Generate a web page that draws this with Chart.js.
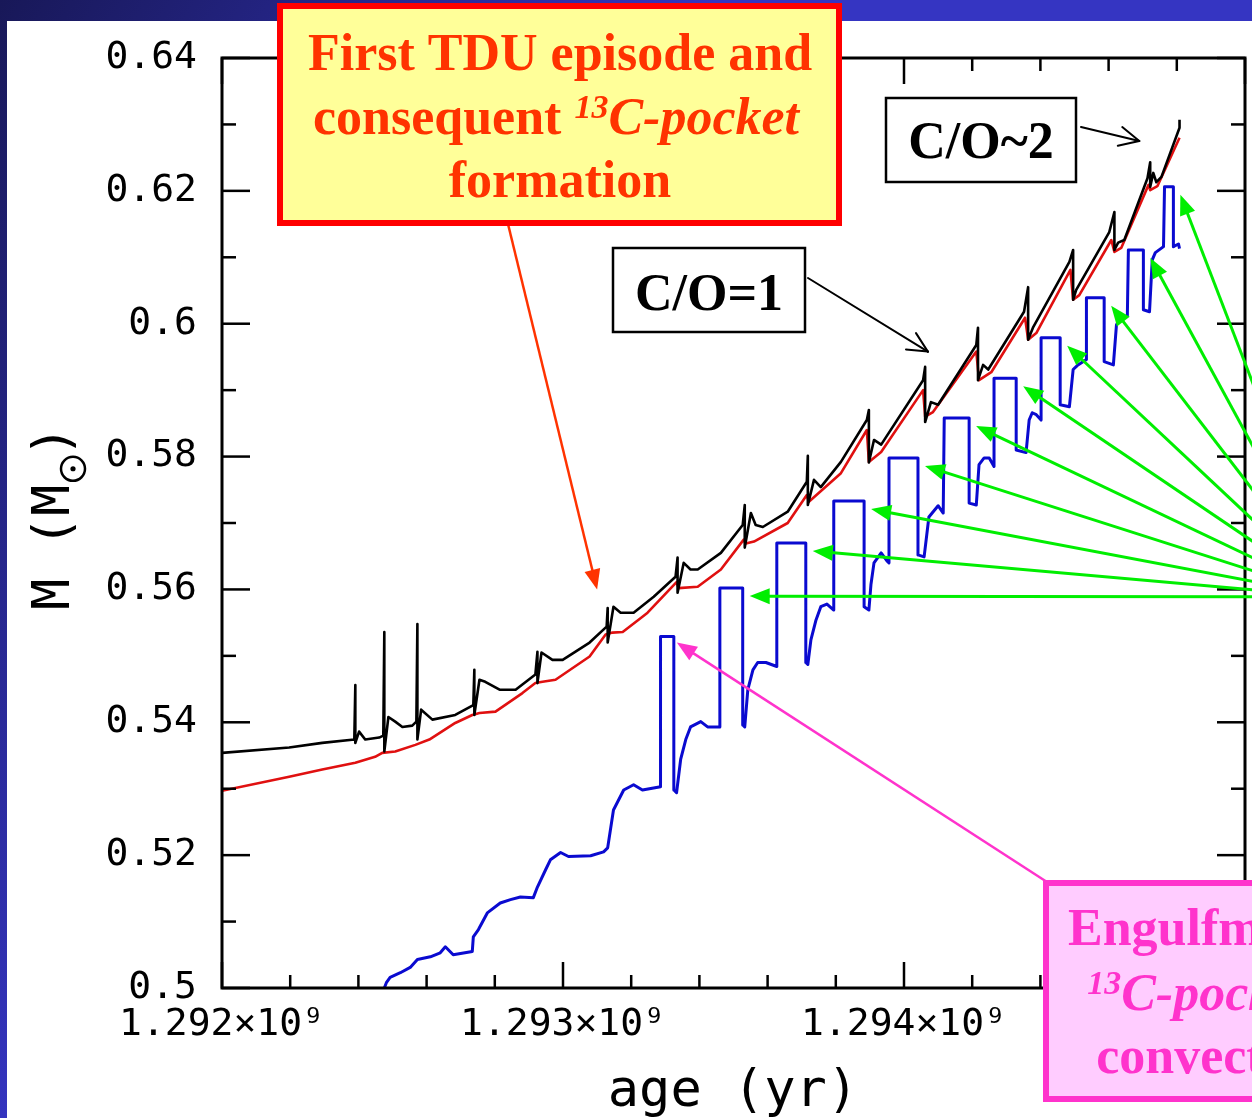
<!DOCTYPE html>
<html>
<head>
<meta charset="utf-8">
<script src="https://cdn.jsdelivr.net/npm/chart.js@4.4.0/dist/chart.umd.min.js"></script>
<style>
  html, body { margin: 0; padding: 0; overflow: hidden; background: #2a2aa0; }
  canvas { display: block; }
</style>
</head>
<body>
<canvas id="tp" width="1252" height="1118"></canvas>
<script>
// Ages are in units of 10^6 yr, masses in solar masses.

// Envelope base / H-burning shell (black)
const blackAge = [1292.000,1292.197,1292.294,1292.388,1292.391,1292.391,1292.402,1292.420,1292.461,1292.473,
  1292.476,1292.476,1292.488,1292.508,1292.529,1292.558,1292.570,1292.573,1292.573,1292.584,
  1292.617,1292.684,1292.737,1292.740,1292.740,1292.755,1292.772,1292.814,1292.861,1292.919,
  1292.925,1292.925,1292.937,1292.969,1292.999,1293.078,1293.128,1293.131,1293.131,1293.148,
  1293.169,1293.207,1293.266,1293.330,1293.336,1293.336,1293.354,1293.374,1293.395,1293.463,
  1293.527,1293.533,1293.533,1293.551,1293.565,1293.586,1293.659,1293.715,1293.718,1293.718,
  1293.736,1293.756,1293.815,1293.891,1293.897,1293.897,1293.912,1293.933,1294.056,1294.062,
  1294.062,1294.079,1294.100,1294.212,1294.217,1294.217,1294.232,1294.247,1294.352,1294.364,
  1294.364,1294.379,1294.485,1294.496,1294.496,1294.505,1294.602,1294.617,1294.617,1294.628,
  1294.646,1294.714,1294.722,1294.722,1294.731,1294.740,1294.755,1294.808,1294.808];
const blackMass = [0.5354,0.5362,0.5369,0.5374,0.5456,0.5369,0.5386,0.5374,0.5377,0.5380,
  0.5536,0.5356,0.5408,0.5401,0.5393,0.5395,0.5401,0.5548,0.5374,0.5419,
  0.5404,0.5411,0.5426,0.5479,0.5411,0.5464,0.5461,0.5449,0.5449,0.5472,
  0.5506,0.5459,0.5505,0.5494,0.5494,0.5520,0.5544,0.5572,0.5520,0.5574,
  0.5565,0.5565,0.5589,0.5619,0.5648,0.5595,0.5640,0.5630,0.5630,0.5655,
  0.5697,0.5727,0.5663,0.5715,0.5697,0.5694,0.5717,0.5762,0.5801,0.5727,
  0.5765,0.5754,0.5792,0.5855,0.5870,0.5791,0.5825,0.5818,0.5915,0.5935,
  0.5852,0.5882,0.5878,0.5968,0.5994,0.5915,0.5938,0.5931,0.6018,0.6055,
  0.5976,0.5995,0.6093,0.6111,0.6036,0.6051,0.6138,0.6168,0.6111,0.6122,
  0.6126,0.6219,0.6243,0.6206,0.6227,0.6213,0.6221,0.6295,0.6307];

// H-exhausted core (red)
const redAge = [1292.000,1292.197,1292.294,1292.391,1292.449,1292.470,1292.508,1292.567,1292.608,1292.684,
  1292.734,1292.755,1292.802,1292.881,1292.919,1292.940,1292.978,1293.078,1293.125,1293.145,
  1293.175,1293.233,1293.248,1293.333,1293.339,1293.395,1293.463,1293.530,1293.536,1293.560,
  1293.659,1293.715,1293.721,1293.815,1293.891,1293.897,1293.933,1294.056,1294.062,1294.085,
  1294.212,1294.220,1294.256,1294.355,1294.364,1294.388,1294.488,1294.496,1294.514,1294.608,
  1294.617,1294.637,1294.717,1294.722,1294.743,1294.808];
const redMass = [0.5297,0.5318,0.5329,0.5339,0.5348,0.5354,0.5356,0.5366,0.5374,0.5399,
  0.5411,0.5414,0.5416,0.5444,0.5459,0.5461,0.5464,0.5499,0.5532,0.5535,
  0.5536,0.5559,0.5565,0.5611,0.5602,0.5604,0.5630,0.5675,0.5669,0.5672,
  0.5700,0.5742,0.5732,0.5775,0.5840,0.5792,0.5807,0.5900,0.5860,0.5867,
  0.5958,0.5915,0.5927,0.6009,0.5976,0.5986,0.6081,0.6036,0.6043,0.6126,
  0.6108,0.6114,0.6209,0.6201,0.6207,0.6280];

// He-exhausted core and convective shells (blue)
const blueAge = [1292.476,1292.482,1292.493,1292.523,1292.552,1292.573,1292.611,1292.640,1292.655,1292.678,
  1292.734,1292.737,1292.752,1292.778,1292.816,1292.846,1292.875,1292.913,1292.925,1292.949,
  1292.963,1292.993,1293.016,1293.081,1293.119,1293.131,1293.148,1293.178,1293.207,1293.233,
  1293.286,1293.286,1293.325,1293.325,1293.333,1293.345,1293.360,1293.374,1293.404,1293.424,
  1293.460,1293.460,1293.527,1293.527,1293.533,1293.542,1293.557,1293.571,1293.595,1293.627,
  1293.627,1293.712,1293.712,1293.718,1293.727,1293.742,1293.756,1293.774,1293.794,1293.794,
  1293.883,1293.883,1293.897,1293.903,1293.912,1293.933,1293.950,1293.956,1293.956,1294.041,
  1294.041,1294.059,1294.073,1294.100,1294.115,1294.118,1294.191,1294.191,1294.212,1294.220,
  1294.235,1294.250,1294.264,1294.264,1294.329,1294.329,1294.358,1294.367,1294.376,1294.388,
  1294.402,1294.402,1294.458,1294.458,1294.485,1294.496,1294.508,1294.535,1294.535,1294.587,
  1294.587,1294.614,1294.623,1294.631,1294.655,1294.658,1294.702,1294.702,1294.720,1294.728,
  1294.737,1294.761,1294.764,1294.790,1294.790,1294.805,1294.808];
const blueMass = [0.5000,0.5008,0.5016,0.5023,0.5031,0.5043,0.5047,0.5053,0.5062,0.5050,
  0.5055,0.5077,0.5088,0.5113,0.5128,0.5133,0.5137,0.5136,0.5152,0.5178,
  0.5193,0.5204,0.5198,0.5199,0.5205,0.5211,0.5268,0.5298,0.5306,0.5298,
  0.5303,0.5529,0.5529,0.5298,0.5294,0.5344,0.5374,0.5393,0.5401,0.5393,
  0.5393,0.5602,0.5602,0.5396,0.5393,0.5449,0.5479,0.5490,0.5490,0.5484,
  0.5670,0.5670,0.5490,0.5487,0.5524,0.5554,0.5574,0.5578,0.5569,0.5733,
  0.5733,0.5574,0.5569,0.5607,0.5640,0.5655,0.5643,0.5640,0.5798,0.5798,
  0.5652,0.5649,0.5709,0.5726,0.5715,0.5858,0.5858,0.5730,0.5727,0.5788,
  0.5798,0.5798,0.5785,0.5918,0.5918,0.5810,0.5806,0.5855,0.5866,0.5863,
  0.5855,0.5979,0.5979,0.5878,0.5875,0.5931,0.5937,0.5946,0.6039,0.6039,
  0.5943,0.5938,0.5998,0.6006,0.6012,0.6111,0.6111,0.6021,0.6018,0.6096,
  0.6107,0.6116,0.6206,0.6206,0.6116,0.6120,0.6113];

// Axis ticks
const ageTicks = [1292, 1293, 1294];
const ageTickLabels = ['1.292\u00d710\u2079', '1.293\u00d710\u2079', '1.294\u00d710\u2079'];
const massTicks = [0.50, 0.52, 0.54, 0.56, 0.58, 0.60, 0.62, 0.64];
const massTickLabels = ['0.5', '0.52', '0.54', '0.56', '0.58', '0.6', '0.62', '0.64'];

const pts = (xs, ys) => xs.map((x, i) => ({ x, y: ys[i] }));

function seg(ctx, x0, y0, x1, y1) {
  ctx.beginPath(); ctx.moveTo(x0, y0); ctx.lineTo(x1, y1); ctx.stroke();
}

function arrowFilled(ctx, x0, y0, x1, y1, color, lw, len, half) {
  const a = Math.atan2(y1 - y0, x1 - x0);
  const bx = x1 - len * Math.cos(a), by = y1 - len * Math.sin(a);
  ctx.strokeStyle = color; ctx.fillStyle = color; ctx.lineWidth = lw;
  seg(ctx, x0, y0, bx + 2 * Math.cos(a), by + 2 * Math.sin(a));
  ctx.beginPath();
  ctx.moveTo(x1, y1);
  ctx.lineTo(bx + half * Math.sin(a), by - half * Math.cos(a));
  ctx.lineTo(bx - half * Math.sin(a), by + half * Math.cos(a));
  ctx.closePath(); ctx.fill();
}

function arrowOpen(ctx, x0, y0, x1, y1, color, lw, len, ang) {
  const a = Math.atan2(y1 - y0, x1 - x0);
  ctx.strokeStyle = color; ctx.lineWidth = lw; ctx.lineCap = 'round';
  seg(ctx, x0, y0, x1, y1);
  seg(ctx, x1, y1, x1 - len * Math.cos(a - ang), y1 - len * Math.sin(a - ang));
  seg(ctx, x1, y1, x1 - len * Math.cos(a + ang), y1 - len * Math.sin(a + ang));
  ctx.lineCap = 'butt';
}

// Draws a line made of styled runs (bold / italic / superscript), centred on cx
function runsFont(r, size) {
  const s = r.sup ? Math.round(size * 0.65) : size;
  return (r.it ? 'italic ' : '') + 'bold ' + s + 'px "Liberation Serif"';
}
function runsWidth(ctx, runs, size) {
  let w = 0;
  runs.forEach(r => { ctx.font = runsFont(r, size); w += ctx.measureText(r.t).width; });
  return w;
}
function drawRuns(ctx, runs, cx, base, size, color) {
  let x = cx - runsWidth(ctx, runs, size) / 2;
  ctx.fillStyle = color; ctx.textAlign = 'left'; ctx.textBaseline = 'alphabetic';
  runs.forEach(r => {
    ctx.font = runsFont(r, size);
    ctx.fillText(r.t, x, base - (r.sup ? size * 0.3 : 0));
    x += ctx.measureText(r.t).width;
  });
}

const decor = {
  id: 'decor',
  beforeDraw(chart) {
    const { ctx, width, height } = chart;
    ctx.save();
    const g = ctx.createLinearGradient(0, 0, 520, 320);
    g.addColorStop(0, '#181858');
    g.addColorStop(1, '#3535c2');
    ctx.fillStyle = g;
    ctx.fillRect(0, 0, width, height);
    ctx.fillStyle = '#ffffff';
    ctx.fillRect(7, 21, width - 7, height - 21);
    ctx.restore();
  },
  afterDatasetsDraw(chart) {
    const { ctx } = chart;
    const { left, right, top, bottom } = chart.chartArea;
    const xs = chart.scales.x, ys = chart.scales.y;
    ctx.save();
    ctx.strokeStyle = '#000';
    ctx.lineWidth = 3;
    ctx.strokeRect(left, top, right - left, bottom - top);
    ctx.lineWidth = 2.5;
    for (let i = 0; i <= 14; i++) {
      const p = ys.getPixelForValue(0.5 + i * 0.01);
      const L = i % 2 === 0 ? 28 : 14;
      seg(ctx, left, p, left + L, p);
      seg(ctx, right, p, right - L, p);
    }
    for (let i = 0; i <= 15; i++) {
      const p = xs.getPixelForValue(1292 + i * 0.2);
      const L = i % 5 === 0 ? 26 : 13;
      seg(ctx, p, bottom, p, bottom - L);
      seg(ctx, p, top, p, top + L);
    }
    ctx.restore();
  },
  afterDraw(chart) {
    const { ctx } = chart;
    const xs = chart.scales.x, ys = chart.scales.y;
    const px = v => xs.getPixelForValue(v);
    const py = v => ys.getPixelForValue(v);
    ctx.save();

    // axis titles
    ctx.fillStyle = '#000';
    ctx.strokeStyle = '#000';
    ctx.font = '52px "DejaVu Sans Mono"';
    ctx.textAlign = 'center';
    ctx.textBaseline = 'alphabetic';
    ctx.fillText('age (yr)', 733, 1106);

    ctx.save();
    ctx.translate(69, 610);
    ctx.rotate(-Math.PI / 2);
    ctx.textAlign = 'left';
    ctx.fillText('M (M', 0, 0);
    const w = ctx.measureText('M (M').width;
    ctx.lineWidth = 2.5;
    ctx.beginPath(); ctx.arc(w + 16, 4, 12, 0, Math.PI * 2); ctx.stroke();
    ctx.beginPath(); ctx.arc(w + 16, 4, 2.6, 0, Math.PI * 2); ctx.fill();
    ctx.fillText(')', w + 28, 0);
    ctx.restore();

    // pulse tops: right-hand corners of each convective shell
    const corners = [];
    for (let i = 0; i < blueAge.length - 1; i++) {
      if (blueAge[i] === blueAge[i + 1] && blueMass[i] - blueMass[i + 1] > 0.005) {
        corners.push([px(blueAge[i]), py(blueMass[i])]);
      }
    }
    const hub = [1335, 597];
    corners.slice(1).forEach(c => {
      arrowFilled(ctx, hub[0], hub[1], c[0] + 7, c[1] + 8, '#00ee00', 3, 20, 8);
    });
    const first = corners[0];
    arrowFilled(ctx, 1047, 882, first[0] + 3, first[1] + 6, '#ff33cc', 2.5, 20, 8);

    // first TDU arrow
    arrowFilled(ctx, 508, 224, px(1293.10), py(0.5600), '#ff3300', 2.5, 20, 8);

    // C/O arrows
    arrowOpen(ctx, 808, 278, px(1294.07), py(0.5958), '#000', 2, 22, 0.45);
    arrowOpen(ctx, 1081, 127, px(1294.69), py(0.6275), '#000', 2, 22, 0.45);

    // yellow box
    ctx.fillStyle = '#ffff99';
    ctx.fillRect(280, 6, 559, 217);
    ctx.strokeStyle = '#ff0000';
    ctx.lineWidth = 6;
    ctx.strokeRect(280, 6, 559, 217);
    const orange = '#ff3300';
    drawRuns(ctx, [{ t: 'First TDU episode and' }], 560, 70, 52, orange);
    drawRuns(ctx, [{ t: 'consequent ' }, { t: '13', it: true, sup: true }, { t: 'C-pocket', it: true }], 556, 134, 52, orange);
    drawRuns(ctx, [{ t: 'formation' }], 560, 197, 52, orange);

    // C/O boxes
    ctx.fillStyle = '#fff';
    ctx.strokeStyle = '#000';
    ctx.lineWidth = 2.5;
    ctx.fillRect(613, 248, 192, 84);
    ctx.strokeRect(613, 248, 192, 84);
    drawRuns(ctx, [{ t: 'C/O=1' }], 709, 310, 52, '#000');
    ctx.fillStyle = '#fff';
    ctx.fillRect(886, 98, 190, 84);
    ctx.strokeRect(886, 98, 190, 84);
    drawRuns(ctx, [{ t: 'C/O~2' }], 981, 158, 52, '#000');

    // pink box
    ctx.fillStyle = '#ffccff';
    ctx.fillRect(1046, 883, 400, 216);
    ctx.strokeStyle = '#ff33cc';
    ctx.lineWidth = 6;
    ctx.strokeRect(1046, 883, 400, 216);
    ctx.font = 'bold 52px "Liberation Serif"';
    const cx = 1068 + ctx.measureText('Engulfment of the').width / 2;
    const pink = '#ff33cc';
    drawRuns(ctx, [{ t: 'Engulfment of the' }], cx, 945, 52, pink);
    drawRuns(ctx, [{ t: '13', it: true, sup: true }, { t: 'C-pocket', it: true }, { t: ' in the' }], cx, 1010, 52, pink);
    drawRuns(ctx, [{ t: 'convective shell' }], cx, 1073, 52, pink);

    ctx.restore();
  }
};

new Chart(document.getElementById('tp'), {
  type: 'line',
  data: {
    datasets: [
      { label: 'black', data: pts(blackAge, blackMass), borderColor: '#000000', borderWidth: 2.6, order: 0 },
      { label: 'red', data: pts(redAge, redMass), borderColor: '#e01010', borderWidth: 2.6, order: 1 },
      { label: 'blue', data: pts(blueAge, blueMass), borderColor: '#0a0ad0', borderWidth: 3, order: 2 }
    ].map(d => Object.assign(d, { pointRadius: 0, tension: 0, fill: false, borderJoinStyle: 'round' }))
  },
  options: {
    responsive: false,
    devicePixelRatio: 1,
    animation: false,
    events: [],
    layout: { padding: { left: 0, right: 7, top: 58, bottom: 0 } },
    plugins: { legend: { display: false }, tooltip: { enabled: false } },
    scales: {
      x: {
        type: 'linear', min: 1292, max: 1295,
        grid: { display: false, drawTicks: false },
        border: { display: false },
        afterFit(s) { s.height = 130; },
        afterBuildTicks(s) { s.ticks = ageTicks.map(v => ({ value: v })); },
        ticks: {
          autoSkip: false, maxRotation: 0, padding: 14, color: '#000',
          font: { family: 'DejaVu Sans Mono', size: 38 },
          callback: (v) => ageTickLabels[ageTicks.indexOf(v)] || ''
        }
      },
      y: {
        type: 'linear', min: 0.5, max: 0.64,
        grid: { display: false, drawTicks: false },
        border: { display: false },
        afterFit(s) { s.width = 222; },
        afterBuildTicks(s) { s.ticks = massTicks.map(v => ({ value: v })); },
        ticks: {
          autoSkip: false, padding: 25, color: '#000',
          font: { family: 'DejaVu Sans Mono', size: 38 },
          callback: (v) => massTickLabels[massTicks.indexOf(v)] || ''
        }
      }
    }
  },
  plugins: [decor]
});
</script>
</body>
</html>
